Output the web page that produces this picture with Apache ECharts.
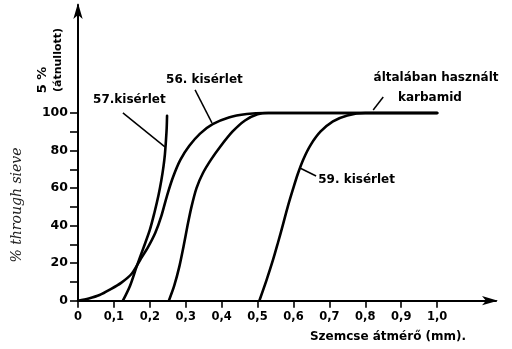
<!DOCTYPE html>
<html><head><meta charset="utf-8">
<script src="https://cdn.jsdelivr.net/npm/echarts@6/dist/echarts.min.js"></script>
<style>html,body{margin:0;padding:0;background:#fff}#c{width:512px;height:349px}</style>
</head><body><div id="c"></div>
<script>
// ---- data ----
const xTicks = [0, 0.1, 0.2, 0.3, 0.4, 0.5, 0.6, 0.7, 0.8, 0.9, 1.0];
const xTickLabels = ['0', '0,1', '0,2', '0,3', '0,4', '0,5', '0,6', '0,7', '0,8', '0,9', '1,0'];
const yTicks = [0, 10, 20, 30, 40, 50, 60, 70, 80, 90, 100];
const yTickLabels = [0, 20, 40, 60, 80, 100];

const exp57 = [[0.125,0],[0.145,8],[0.163,18],[0.182,28],[0.2,37.7],[0.213,47],[0.224,56],[0.232,64],[0.238,71.4],[0.242,78],[0.245,85.6],[0.247,92],[0.248,98.5]];
const exp56 = [[0,0],[0.03,1.2],[0.06,3],[0.09,6],[0.12,9.5],[0.15,14.5],[0.173,21.7],[0.195,28.5],[0.215,36],[0.232,45],[0.248,56],[0.265,66],[0.285,75],[0.31,82.5],[0.34,89],[0.375,94],[0.42,97.6],[0.47,99.4],[0.52,100],[1.0,100]];
const expUsual = [[0.253,0],[0.268,8],[0.282,18],[0.294,29],[0.305,40],[0.316,50],[0.33,60],[0.348,68],[0.37,75],[0.396,82],[0.43,90],[0.465,96],[0.5,99.3],[0.53,100],[1.0,100]];
const exp59 = [[0.505,0],[0.525,11],[0.543,21.7],[0.557,31],[0.57,40],[0.584,50],[0.598,59],[0.612,67.5],[0.628,75.5],[0.648,83],[0.675,90],[0.71,95.5],[0.75,98.7],[0.8,100],[1.0,100]];

const annotations = [
  {text: '57.kisérlet', at: [0.143, 107], align: 'center', line: [[0.125, 100], [0.242, 81.9]]},
  {text: '56. kisérlet', at: [0.352, 117.6], align: 'center', line: [[0.326, 112.3], [0.373, 94.7]]},
  {text: 'általában használt', at: [0.997, 118.7], align: 'center', line: null},
  {text: 'karbamid', at: [0.98, 108], align: 'center', line: [[0.85, 108.5], [0.822, 101.6]]},
  {text: '59. kisérlet', at: [0.669, 64.3], align: 'left', line: [[0.618, 70.7], [0.663, 66.4]]}
];

// ---- chart ----
const FONT = 'DejaVu Sans';
const chart = echarts.init(document.getElementById('c'), null, {renderer: 'canvas'});
const lineStyle = {color: '#000', width: 2.6, join: 'round', cap: 'round'};
const mk = (name, data) => ({
  name, type: 'line', data, showSymbol: false, smooth: 0.3,
  lineStyle, silent: true, animation: false
});
chart.setOption({
  animation: false,
  backgroundColor: '#fff',
  grid: {left: 78, top: 5, width: 418, height: 295.7},
  xAxis: {
    type: 'value', min: 0, max: 1.164,
    axisLine: {show: true, symbol: ['none', 'arrow'], symbolSize: [7, 16], symbolOffset: [0, 2], lineStyle: {color: '#000', width: 2}},
    axisTick: {show: true, customValues: xTicks, length: 7, lineStyle: {color: '#000', width: 1.6}},
    axisLabel: {customValues: xTicks, color: '#000', fontFamily: FONT, fontWeight: 'bold', fontSize: 11.5, margin: 10,
      formatter: v => xTickLabels[Math.round(v * 10)]},
    splitLine: {show: false}
  },
  yAxis: {
    type: 'value', min: 0, max: 157.5,
    axisLine: {show: true, symbol: ['none', 'arrow'], symbolSize: [7, 16], symbolOffset: [0, 2], lineStyle: {color: '#000', width: 2}},
    axisTick: {show: true, customValues: yTicks, length: 8, lineStyle: {color: '#000', width: 1.6}},
    axisLabel: {customValues: yTickLabels, color: '#000', fontFamily: FONT, fontWeight: 'bold', fontSize: 12.5, margin: 10},
    splitLine: {show: false}
  },
  series: [mk('57. kisérlet', exp57), mk('56. kisérlet', exp56), mk('általában használt karbamid', expUsual), mk('59. kisérlet', exp59)]
});

const g = [];
const px = p => chart.convertToPixel({gridIndex: 0}, p);
annotations.forEach(a => {
  const p = px(a.at);
  g.push({type: 'text', x: p[0], y: p[1], style: {text: a.text, fill: '#000', font: 'bold 12px "' + FONT + '"', textAlign: a.align, textVerticalAlign: 'middle'}});
  if (a.line) {
    const p1 = px(a.line[0]), p2 = px(a.line[1]);
    g.push({type: 'line', shape: {x1: p1[0], y1: p1[1], x2: p2[0], y2: p2[1]}, style: {stroke: '#000', lineWidth: 1.5}});
  }
});
// axis titles
g.push({type: 'text', x: 43, y: 80, rotation: Math.PI / 2, style: {text: '5 %', fill: '#000', font: 'bold 13px "' + FONT + '"', textAlign: 'center', textVerticalAlign: 'middle'}});
g.push({type: 'text', x: 58, y: 60, rotation: Math.PI / 2, style: {text: '(átnullott)', fill: '#000', font: 'bold 11px "' + FONT + '"', textAlign: 'center', textVerticalAlign: 'middle'}});
g.push({type: 'text', x: 17, y: 205, rotation: Math.PI / 2, style: {text: '% through sieve', fill: '#222', font: 'italic 14px "DejaVu Serif"', textAlign: 'center', textVerticalAlign: 'middle'}});
g.push({type: 'text', x: 388, y: 337, style: {text: 'Szemcse átmérő (mm).', fill: '#000', font: 'bold 12px "' + FONT + '"', textAlign: 'center', textVerticalAlign: 'middle'}});
chart.setOption({graphic: g});
</script></body></html>
